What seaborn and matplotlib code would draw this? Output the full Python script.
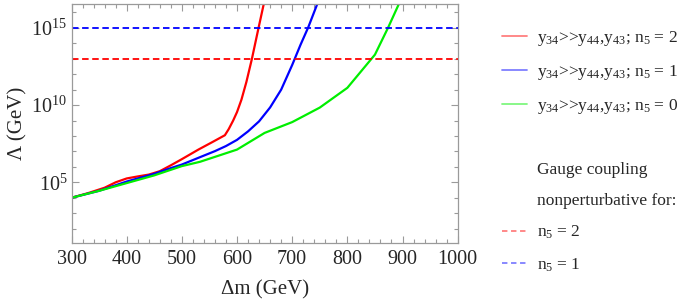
import numpy as np
import pandas as pd
import matplotlib
matplotlib.use("Agg")
import matplotlib.pyplot as plt
import seaborn as sns
from matplotlib.lines import Line2D
from matplotlib.ticker import FixedLocator, MultipleLocator, LogFormatterSciNotation

# ---- data ----
dm_red = [300, 330, 360, 380, 400, 420, 440, 460, 480, 500, 530, 555, 578, 585, 593, 600, 608, 617, 627, 639, 650]
log_lambda_red = [4.0, 4.3, 4.65, 5.0, 5.25, 5.38, 5.5, 5.72, 6.1, 6.5, 7.12, 7.6, 8.05, 8.45, 9.0, 9.55, 10.35, 11.5, 13.0, 15.0, 16.8]

dm_blue = [300, 350, 400, 450, 480, 500, 533, 560, 580, 600, 620, 640, 660, 680, 700, 715, 729, 746]
log_lambda_blue = [4.0, 4.45, 5.05, 5.55, 5.92, 6.15, 6.63, 7.02, 7.35, 7.75, 8.3, 8.95, 9.85, 11.0, 12.6, 13.9, 15.03, 16.6]

dm_green = [300, 350, 400, 450, 480, 500, 533, 600, 650, 700, 750, 800, 850, 874, 894]
log_lambda_green = [4.0, 4.45, 4.95, 5.45, 5.81, 6.05, 6.33, 7.12, 8.2, 8.9, 9.84, 11.12, 13.27, 15.03, 16.6]

nonpert_labels = ["n5 = 2", "n5 = 1"]
nonpert_log_lambda = [13.0, 15.0]

series_labels = [r"y$_{34}$>>y$_{44}$,y$_{43}$; n$_5$ = 2",
                 r"y$_{34}$>>y$_{44}$,y$_{43}$; n$_5$ = 1",
                 r"y$_{34}$>>y$_{44}$,y$_{43}$; n$_5$ = 0"]
colors = ["#ff0000", "#0000ff", "#00ee00"]

frames = []
for lab, x, ly in zip(series_labels, [dm_red, dm_blue, dm_green],
                      [log_lambda_red, log_lambda_blue, log_lambda_green]):
    frames.append(pd.DataFrame({"dm": x, "Lambda": 10.0 ** np.array(ly), "series": lab}))
df = pd.concat(frames, ignore_index=True)

# ---- style ----
sns.set_style("ticks")
plt.rcParams["font.family"] = ["Liberation Serif", "DejaVu Serif"]
plt.rcParams["mathtext.fontset"] = "custom"
plt.rcParams["mathtext.rm"] = "Liberation Serif"
plt.rcParams["mathtext.it"] = "Liberation Serif:italic"
plt.rcParams["mathtext.default"] = "rm"

fig = plt.figure(figsize=(6.92, 3.02), dpi=100)
ax = fig.add_axes([71.5 / 692, 1 - 243.3 / 302, (457.7 - 71.5) / 692, (243.3 - 4) / 302])

sns.lineplot(data=df, x="dm", y="Lambda", hue="series", palette=colors,
             hue_order=series_labels, sort=False, estimator=None, lw=1.6,
             ax=ax, legend=False)

dash_colors = ["#ff0000", "#0000ff"]
for lv, c in zip(nonpert_log_lambda, dash_colors):
    ax.axhline(10.0 ** lv, color=c, lw=1.3, ls=(0, (3.6, 2.0)))

ax.set_yscale("log")
ax.set_xlim(300, 1000)
ax.set_ylim(10 ** 1.05, 10 ** 16.55)

ax.xaxis.set_major_locator(MultipleLocator(100))
ax.xaxis.set_minor_locator(MultipleLocator(20))
ax.yaxis.set_major_locator(FixedLocator([1e5, 1e10, 1e15]))
ax.yaxis.set_minor_locator(FixedLocator([10.0 ** k for k in range(1, 17)]))
ax.yaxis.set_major_formatter(LogFormatterSciNotation())
ax.yaxis.set_minor_formatter(plt.NullFormatter())

frame_col = "#9a9a9a"
for s in ax.spines.values():
    s.set_color(frame_col)
    s.set_linewidth(0.9)
ax.tick_params(which="both", direction="in", top=True, right=True,
               color=frame_col, labelsize=14.5, width=0.8)
ax.tick_params(axis="x", pad=5)
ax.tick_params(axis="y", pad=3)
ax.tick_params(which="major", length=5)
ax.tick_params(which="minor", length=2.8)

ax.set_xlabel("Δm (GeV)", fontsize=15, labelpad=8)
ax.set_ylabel("Λ (GeV)", fontsize=15, labelpad=3)

# ---- legend ----
handles = [Line2D([], [], color=c, lw=1.3, alpha=0.5) for c in colors]
labels = list(series_labels)
handles.append(Line2D([], [], color="none"))
labels.append(" ")
handles.append(Line2D([], [], color="none"))
labels.append("Gauge coupling")
handles.append(Line2D([], [], color="none"))
labels.append("nonperturbative for:")
for c, lab in zip(dash_colors, nonpert_labels):
    handles.append(Line2D([], [], color=c, lw=1.3, alpha=0.5, ls=(0, (3.0, 2.0))))
    labels.append(lab.replace("n5", r"n$_5$"))

fig.legend(handles, labels, loc="upper left", bbox_to_anchor=(502 / 692, 1 - 29 / 302),
           frameon=False, fontsize=12.5, handlelength=1.45, handletextpad=0.58,
           labelspacing=0.86, borderaxespad=0, borderpad=0)

fig.savefig("out.png", dpi=100)
